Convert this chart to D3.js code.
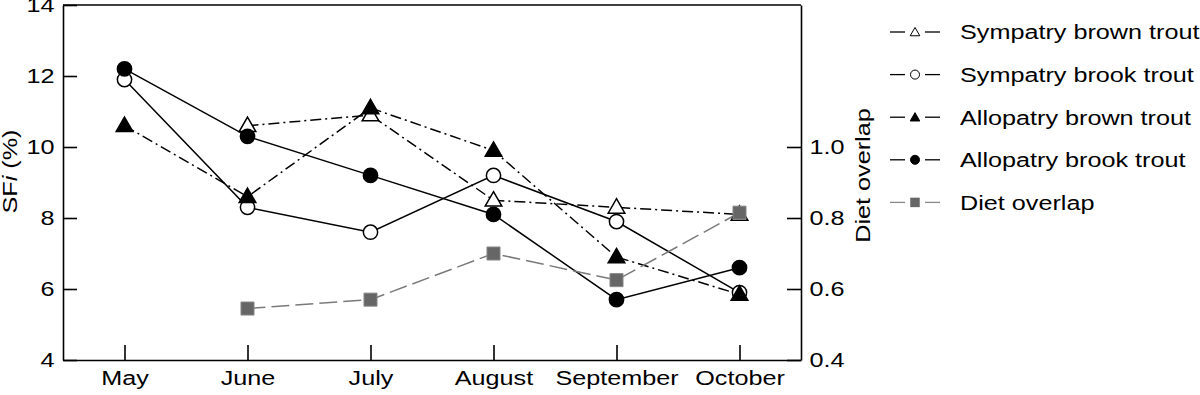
<!DOCTYPE html>
<html>
<head>
<meta charset="utf-8">
<script src="https://cdn.jsdelivr.net/npm/d3@7.9.0/dist/d3.min.js"></script>
<style>
  body { margin: 0; background: #fff; }
  svg { display: block; font-family: "Liberation Sans", Arial, sans-serif; }
</style>
</head>
<body>
<svg id="chart" width="1200" height="395"></svg>
<script>
const months = ['May', 'June', 'July', 'August', 'September', 'October'];

// SFi (%) values, left axis
const sympatryBrown = [null, 10.6, 10.9, 8.5, 8.3, 8.1];
const sympatryBrook = [11.9, 8.3, 7.6, 9.2, 7.9, 5.9];
const allopatryBrown = [10.6, 8.6, 11.1, 9.9, 6.9, 5.85];
const allopatryBrook = [12.2, 10.3, 9.2, 8.1, 5.7, 6.6];

// diet overlap, right axis
const dietOverlap = [null, 0.545, 0.57, 0.70, 0.625, 0.815];

const leftTicks = [4, 6, 8, 10, 12, 14];
const rightTicks = [0.4, 0.6, 0.8, 1.0];

const series = [
    { name: 'Sympatry brown trout', values: sympatryBrown, shape: 'triangle', fill: '#fff', color: '#000', dash: '11,4,2,4', axis: 'left' },
    { name: 'Sympatry brook trout', values: sympatryBrook, shape: 'circle', fill: '#fff', color: '#000', dash: null, axis: 'left' },
    { name: 'Allopatry brown trout', values: allopatryBrown, shape: 'triangle', fill: '#000', color: '#000', dash: '11,4,2,4', axis: 'left' },
    { name: 'Allopatry brook trout', values: allopatryBrook, shape: 'circle', fill: '#000', color: '#000', dash: null, axis: 'left' },
    { name: 'Diet overlap', values: dietOverlap, shape: 'square', fill: '#666', color: '#7a7a7a', dash: '18,6', axis: 'right' }
];

const svg = d3.select('#chart');
const plotLeft = 63, plotRight = 801, plotTop = 5, plotBottom = 360;
const sx = 1.2; // the original lettering is a bit wide

const x = d3.scalePoint().domain(months).range([plotLeft, plotRight]).padding(0.5);
const yL = d3.scaleLinear().domain([4, 14]).range([plotBottom, plotTop]);
const yR = d3.scaleLinear().domain([0.4, 1.4]).range([plotBottom, plotTop]);

const symbols = {
    triangle: d3.symbolTriangle,
    circle: d3.symbolCircle,
    square: d3.symbolSquare
};
const bigSize = { triangle: 120, circle: 160, square: 170 };
const smallSize = { triangle: 40, circle: 64, square: 90 };

// frame
svg.append('line').attr('x1', plotLeft).attr('x2', plotRight).attr('y1', plotTop).attr('y2', plotTop)
    .attr('stroke', '#000').attr('stroke-width', 1.6);

function styleAxis(g) {
    g.select('.domain').attr('stroke-width', 1.6);
    g.selectAll('.tick line').attr('stroke-width', 1.6);
    g.selectAll('.tick text').attr('font-size', 21).attr('fill', '#000')
        .attr('transform', `scale(${sx},1)`);
}

svg.append('g')
    .attr('transform', `translate(${plotLeft},0)`)
    .call(d3.axisLeft(yL).tickValues(leftTicks).tickSizeInner(-14).tickSizeOuter(0).tickPadding(7))
    .call(styleAxis);

svg.append('g')
    .attr('transform', `translate(${plotRight},0)`)
    .call(d3.axisRight(yR).tickValues(rightTicks).tickFormat(d3.format('.1f')).tickSizeInner(-14).tickSizeOuter(0).tickPadding(7))
    .call(styleAxis);

svg.append('g')
    .attr('transform', `translate(0,${plotBottom})`)
    .call(d3.axisBottom(x).tickSizeInner(-15).tickSizeOuter(0).tickPadding(10))
    .call(styleAxis);

// axis titles
const yTitle = svg.append('text')
    .attr('transform', `translate(17,${(plotTop + plotBottom) / 2 - 11}) rotate(-90) scale(${sx},1)`)
    .attr('text-anchor', 'middle')
    .attr('font-size', 21);
yTitle.append('tspan').text('SF');
yTitle.append('tspan').attr('font-style', 'italic').text('i');
yTitle.append('tspan').text(' (%)');

svg.append('text')
    .attr('transform', `translate(870,${(plotTop + plotBottom) / 2 - 7}) rotate(-90) scale(${sx},1)`)
    .attr('text-anchor', 'middle')
    .attr('font-size', 21)
    .text('Diet overlap');

// lines behind markers
const plot = svg.append('g');
series.forEach(s => {
    const y = s.axis === 'left' ? yL : yR;
    const line = d3.line()
        .defined(d => d != null)
        .x((d, i) => x(months[i]))
        .y(d => y(d));
    plot.append('path')
        .datum(s.values)
        .attr('d', line)
        .attr('fill', 'none')
        .attr('stroke', s.color)
        .attr('stroke-width', 1.5)
        .attr('stroke-dasharray', s.dash);
});

series.forEach(s => {
    const y = s.axis === 'left' ? yL : yR;
    const sym = d3.symbol().type(symbols[s.shape]).size(bigSize[s.shape]);
    const pts = s.values.map((v, i) => ({ v, m: months[i] })).filter(d => d.v != null);
    plot.selectAll(null)
        .data(pts)
        .join('path')
        .attr('transform', d => `translate(${x(d.m)},${y(d.v) + (s.shape === 'triangle' ? 1 : 0)})`)
        .attr('d', sym)
        .attr('fill', s.fill)
        .attr('stroke', s.shape === 'square' ? '#888' : '#000')
        .attr('stroke-width', s.shape === 'square' ? 1 : 1.5);
});

// legend
const legend = svg.append('g');
series.forEach((s, i) => {
    const ly = 32 + i * 42.6;
    const lineColor = s.shape === 'square' ? '#888' : '#000';
    legend.append('line').attr('x1', 890).attr('x2', 905).attr('y1', ly).attr('y2', ly)
        .attr('stroke', lineColor).attr('stroke-width', 1.3);
    legend.append('line').attr('x1', 925).attr('x2', 940).attr('y1', ly).attr('y2', ly)
        .attr('stroke', lineColor).attr('stroke-width', 1.3);
    legend.append('path')
        .attr('transform', `translate(915,${ly + (s.shape === 'triangle' ? 1 : 0)})`)
        .attr('d', d3.symbol().type(symbols[s.shape]).size(smallSize[s.shape]))
        .attr('fill', s.fill)
        .attr('stroke', s.shape === 'square' ? 'none' : '#000')
        .attr('stroke-width', 1);
    legend.append('text')
        .attr('transform', `translate(960,${ly}) scale(${sx},1)`)
        .attr('dy', '0.35em')
        .attr('font-size', 21)
        .text(s.name);
});
</script>
</body>
</html>
